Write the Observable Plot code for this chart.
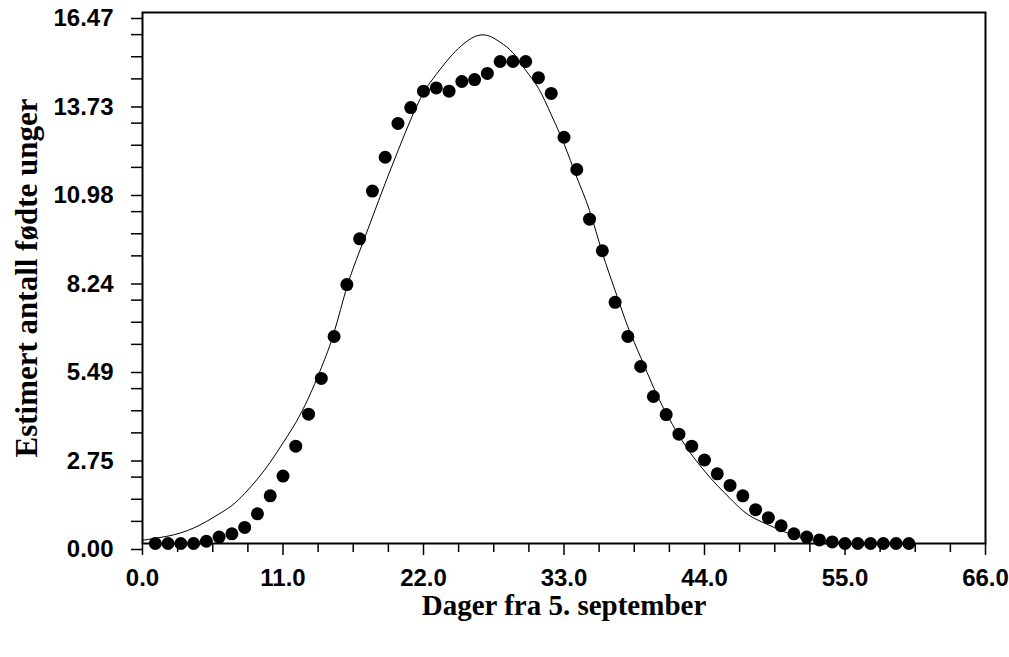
<!DOCTYPE html>
<html>
<head>
<meta charset="utf-8">
<script src="https://cdn.jsdelivr.net/npm/d3@7"></script>
<script src="https://cdn.jsdelivr.net/npm/@observablehq/plot@0.6"></script>
<style>
  html, body { margin: 0; padding: 0; background: #fff; }
  #chart svg { display: block; background: #fff; }
</style>
</head>
<body>
<div id="chart"></div>
<script>
// Observed points: day number and estimated count
const days = [1,2,3,4,5,6,7,8,9,10,11,12,13,14,15,16,17,18,19,20,21,22,23,24,25,26,27,28,29,30,
              31,32,33,34,35,36,37,38,39,40,41,42,43,44,45,46,47,48,49,50,51,52,53,54,55,56,57,58,59,60];
const observed = [0,0,0,0,0.07,0.2,0.3,0.5,0.92,1.48,2.09,3.02,4.01,5.12,6.42,8.03,9.45,10.93,11.98,13.03,
                  13.52,14.03,14.13,14.03,14.33,14.39,14.58,14.95,14.95,14.95,14.45,13.96,12.60,11.60,10.06,9.08,7.48,6.42,5.49,4.56,
                  4.00,3.39,3.02,2.59,2.16,1.80,1.48,1.05,0.80,0.55,0.30,0.20,0.11,0.05,0,0,0,0,0,0];

// Fitted curve
const curveDays = [0,1,2,3,4,5,6,7,8,9,10,11,12,13,14,15,16,17,18,19,20,21,22,23,24,25,26,27,28,29,30,
                   31,32,33,34,35,36,37,38,39,40,41,42,43,44,45,46,47,48,49,50,51,52,53,54,55,56,57,58,59,60];
const fitted = [0.10,0.16,0.23,0.33,0.48,0.68,0.92,1.18,1.55,2.00,2.52,3.12,3.75,4.52,5.45,6.55,7.95,9.07,10.12,11.17,12.18,
                13.15,13.98,14.55,15.05,15.45,15.72,15.76,15.55,15.22,14.68,14.12,13.30,12.40,11.36,10.33,9.02,7.85,6.72,5.78,4.85,
                4.04,3.35,2.75,2.25,1.80,1.40,1.02,0.76,0.58,0.40,0.26,0.14,0.08,0.04,0.02,0.01,0.01,0.01,0.01,0.01];

// Axis ticks
const xTickValues = [0, 11, 22, 33, 44, 55, 66];
const xTickLabels = ["0.0", "11.0", "22.0", "33.0", "44.0", "55.0", "66.0"];
const yTickValues = [0, 2.745, 5.49, 8.235, 10.98, 13.725, 16.47];
const yTickLabels = ["0.00", "2.75", "5.49", "8.24", "10.98", "13.73", "16.47"];
const xTitle = "Dager fra 5. september";
const yTitle = "Estimert antall fødte unger";

// minor ticks: 4 intervals between majors
const minor = (vals) => {
  const out = [];
  for (let i = 0; i < vals.length - 1; i++) {
    const a = vals[i], b = vals[i + 1];
    for (let k = 1; k < 4; k++) out.push(a + (b - a) * k / 4);
  }
  return out;
};

const points = days.map((d, i) => ({day: d, value: observed[i]}));
const curve = curveDays.map((d, i) => ({day: d, value: fitted[i]}));

const sans = "'Liberation Sans', Arial, sans-serif";
const serif = "'Liberation Serif', 'Times New Roman', serif";

const chart = Plot.plot({
  width: 1009,
  height: 657,
  marginLeft: 142,
  marginRight: 24,
  marginTop: 12,
  marginBottom: 114,
  style: {background: "#fff", color: "#000"},
  x: {domain: [0, 66]},
  y: {domain: [0, 16.47]},
  marks: [
    Plot.axisX({ticks: minor(xTickValues), tickSize: 9, tickFormat: () => "", label: null, strokeWidth: 1.5}),
    Plot.axisX({ticks: xTickValues, tickSize: 12, tickPadding: 13, label: null, strokeWidth: 1.5,
      tickFormat: d => xTickLabels[xTickValues.indexOf(d)],
      fontSize: 24, fontWeight: "bold", fontFamily: sans}),
    Plot.axisY({ticks: minor(yTickValues), tickSize: 11, tickFormat: () => "", label: null, strokeWidth: 1.5}),
    Plot.axisY({ticks: yTickValues, tickSize: 11, tickPadding: 18, label: null, strokeWidth: 1.5, dy: 6,
      tickFormat: d => yTickLabels[yTickValues.indexOf(d)],
      fontSize: 24, fontWeight: "bold", fontFamily: sans}),
    Plot.line(curve, {x: "day", y: "value", curve: "natural", stroke: "#000", strokeWidth: 1}),
    Plot.dot(points, {x: "day", y: "value", r: 6.5, fill: "#000", stroke: "none"}),
    Plot.frame({stroke: "#000", strokeWidth: 2}),
    Plot.text([xTitle], {frameAnchor: "bottom", lineAnchor: "middle", textAnchor: "middle", dy: 62, fontSize: 29, fontWeight: "bold", fontFamily: serif, fill: "#000"}),
    Plot.text([yTitle], {frameAnchor: "left", lineAnchor: "middle", textAnchor: "middle", rotate: -90, dx: -115, fontSize: 31, fontWeight: "bold", fontFamily: serif, fill: "#000"})
  ]
});
document.getElementById("chart").appendChild(chart);
</script>
</body>
</html>
